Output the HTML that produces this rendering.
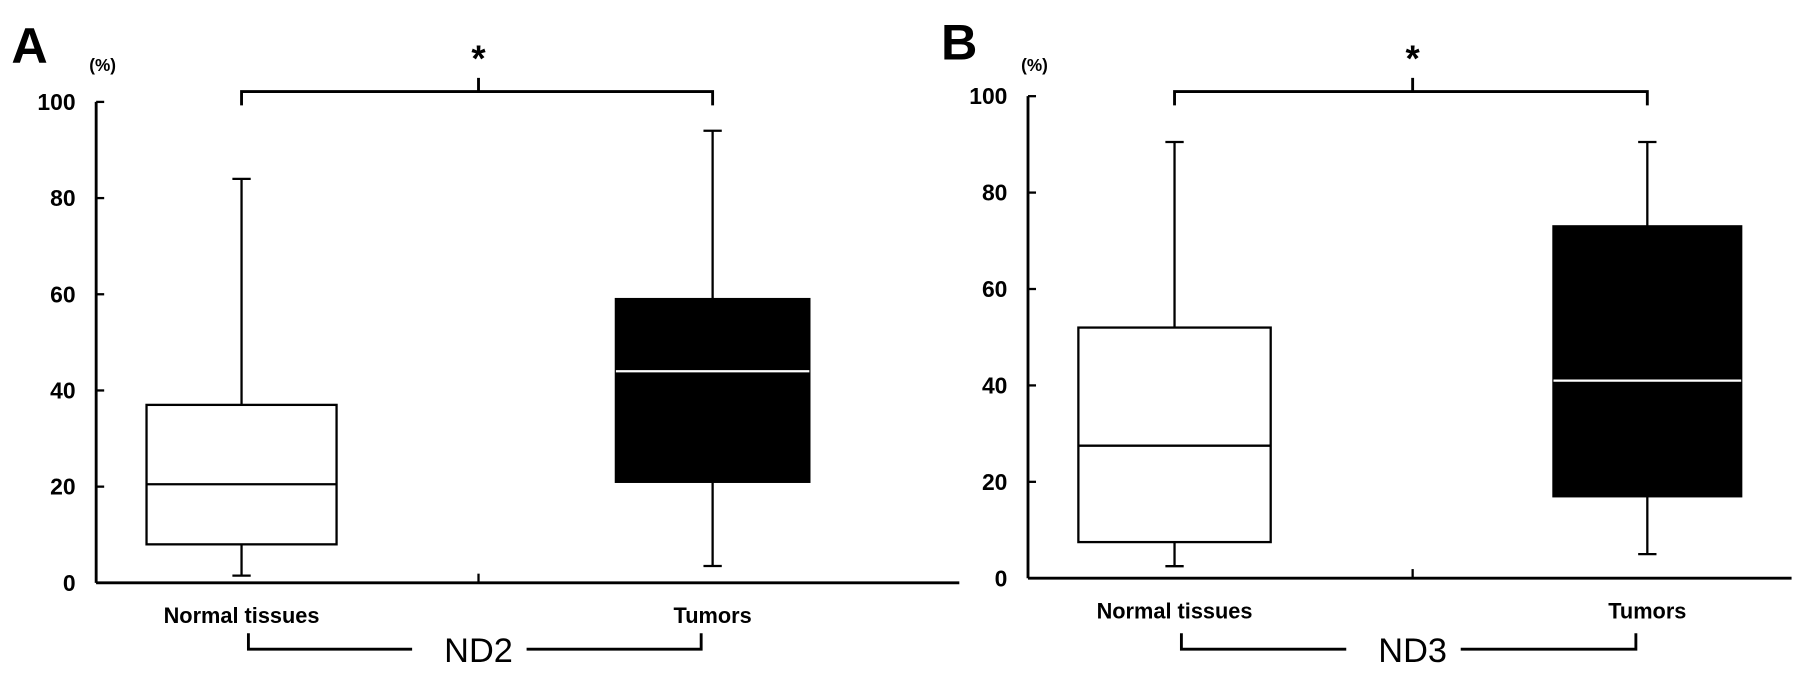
<!DOCTYPE html>
<html><head><meta charset="utf-8"><style>
html,body{margin:0;padding:0;background:#fff;}
svg{display:block;font-family:"Liberation Sans",Arial,sans-serif;}
</style></head><body>
<svg id="chart" width="1795" height="679" viewBox="0 0 1568 593" preserveAspectRatio="none" xmlns="http://www.w3.org/2000/svg"></svg>
<script>
const panels = ["A","B"];
const genes = ["ND2","ND3"];
const categories = ["Normal tissues","Tumors"];
const mins = [[1.5,3.5],[2.5,5]];
const q1s = [[8,21],[7.5,17]];
const medians = [[20.5,44],[27.5,41]];
const q3s = [[37,59],[52,73]];
const maxs = [[84,94],[90.5,90.5]];
const yTicks = [0,20,40,60,80,100];

const NS="http://www.w3.org/2000/svg";
const svg=document.getElementById('chart');
function mk(tag,attrs,parent,name){
  const e=document.createElementNS(NS,tag);
  for(const k in attrs)e.setAttribute(k,attrs[k]);
  
  
  (parent||svg).appendChild(e);return e;
}
const layouts=[
  {ax:84,xr:838,mid:418,y0:509,y100:89,boxL:[128,538],boxR:[294,707],lx:10,ly:55},
  {ax:898,xr:1565,mid:1234,y0:505,y100:84,boxL:[942,1357],boxR:[1110,1521],lx:822,ly:52}
];
panels.forEach((p,pi)=>{
  const L=layouts[pi];
  const g=mk('g',{},svg,'panel-'+p.toLowerCase());
  const y=v=>L.y0-(v/100)*(L.y0-L.y100);
  mk('text',{x:L.lx,y:L.ly,'font-size':44,'font-weight':'bold'},g,'panel-label').textContent=p;
  mk('text',{x:L.ax-6,y:62,'font-size':15,'font-weight':'bold'},g,'y-axis-unit').textContent='(%)';
  mk('line',{x1:L.ax,y1:L.y100,x2:L.ax,y2:L.y0,stroke:'#000','stroke-width':2.5},g,'y-axis');
  mk('line',{x1:L.ax,y1:L.y0,x2:L.xr,y2:L.y0,stroke:'#000','stroke-width':2.5},g,'x-axis');
  const mid=L.mid;
  mk('line',{x1:mid,y1:L.y0,x2:mid,y2:L.y0-8,stroke:'#000','stroke-width':2},g,'x-axis-tick');
  yTicks.forEach(t=>{
    mk('line',{x1:L.ax,y1:y(t),x2:L.ax+7,y2:y(t),stroke:'#000','stroke-width':2},g,'y-tick');
    mk('text',{x:L.ax-18,y:y(t)+7,'font-size':20,'font-weight':'bold','text-anchor':'end'},g,'y-tick-label').textContent=t;
  });
  const cx=[];
  categories.forEach((c,ci)=>{
    const l=L.boxL[ci],r=L.boxR[ci],w=(l+r)/2;cx.push(w);
    const fill=ci===1?'#000':'#fff';
    mk('line',{x1:w,y1:y(maxs[pi][ci]),x2:w,y2:y(mins[pi][ci]),stroke:'#000','stroke-width':2},g,'whisker');
    mk('line',{x1:w-8,y1:y(maxs[pi][ci]),x2:w+8,y2:y(maxs[pi][ci]),stroke:'#000','stroke-width':2},g,'whisker-cap-max');
    mk('line',{x1:w-8,y1:y(mins[pi][ci]),x2:w+8,y2:y(mins[pi][ci]),stroke:'#000','stroke-width':2},g,'whisker-cap-min');
    mk('rect',{x:l,y:y(q3s[pi][ci]),width:r-l,height:y(q1s[pi][ci])-y(q3s[pi][ci]),fill:fill,stroke:'#000','stroke-width':2},g,'box-'+(ci?'tumors':'normal'));
    mk('line',{x1:l,y1:y(medians[pi][ci]),x2:r,y2:y(medians[pi][ci]),stroke:ci?'#fff':'#000','stroke-width':2},g,'median-line');
    mk('text',{x:w,y:L.y0+35,'font-size':19,'font-weight':'bold','text-anchor':'middle'},g,'category-label').textContent=c;
  });
  mk('path',{d:`M${cx[0]} 92 L${cx[0]} 80 L${cx[1]} 80 L${cx[1]} 92 M${mid} 80 L${mid} 68`,fill:'none',stroke:'#000','stroke-width':2.5},g,'significance-bracket');
  mk('text',{x:mid,y:62,'font-size':32,'font-weight':'bold','text-anchor':'middle'},g,'significance-star').textContent='*';
  mk('path',{d:`M${cx[0]+6} 553 L${cx[0]+6} 567 L${mid-58} 567 M${mid+42} 567 L${cx[1]-10} 567 L${cx[1]-10} 553`,fill:'none',stroke:'#000','stroke-width':2.5},g,'gene-bracket');
  mk('text',{x:mid,y:578,'font-size':30,'text-anchor':'middle'},g,'gene-label').textContent=genes[pi];
});
</script>
</body></html>
